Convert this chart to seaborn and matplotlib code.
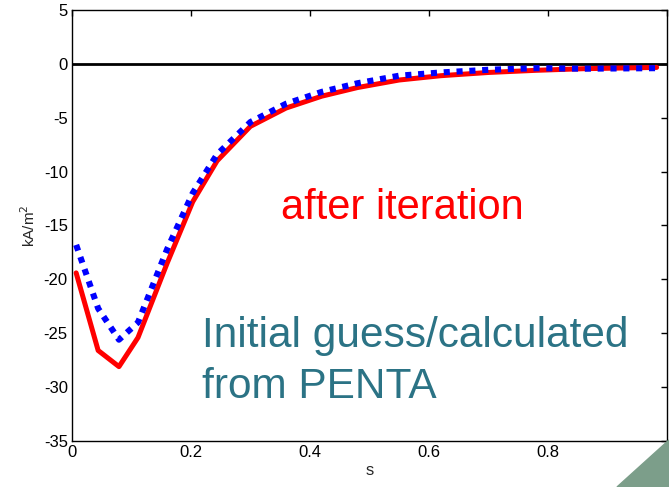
import numpy as np
import pandas as pd
import matplotlib
matplotlib.use("Agg")
import matplotlib.pyplot as plt
import seaborn as sns
from matplotlib.patches import Polygon

# radial coordinate s
s = [0.007, 0.044, 0.079, 0.111, 0.16, 0.203, 0.244, 0.30, 0.36, 0.42,
     0.48, 0.55, 0.62, 0.70, 0.78, 0.86, 0.93, 0.983]
# current density after iteration (kA/m^2)
after_iter = [-19.4, -26.6, -28.1, -25.4, -18.5, -12.8, -9.0, -5.8, -4.1, -3.0,
              -2.2, -1.5, -1.1, -0.8, -0.6, -0.45, -0.38, -0.33]
# initial guess from PENTA (kA/m^2)
initial = [-16.8, -22.7, -25.6, -24.0, -17.2, -12.0, -8.4, -5.4, -3.7, -2.6,
           -1.8, -1.1, -0.8, -0.55, -0.4, -0.45, -0.42, -0.4]

xticks = [0, 0.2, 0.4, 0.6, 0.8, 1]
yticks = [-35, -30, -25, -20, -15, -10, -5, 0, 5]

sns.set_style("white")
plt.rcParams['font.family'] = ['Liberation Sans', 'DejaVu Sans']
plt.rcParams['axes.unicode_minus'] = False

fig = plt.figure(figsize=(6.69, 4.87), dpi=100)
ax = fig.add_axes([0.1076, 0.0945, 0.889, 0.885])

ax.axhline(0, color='black', lw=2, zorder=1)
sns.lineplot(x=s, y=after_iter, color='#ff0000', lw=3.6, ax=ax, zorder=2,
             sort=False)
sns.lineplot(x=s, y=initial, color='#0000ff', lw=4.4, ax=ax, zorder=3,
             sort=False, linestyle=(0, (1, 1.1)))

ax.set_xlim(0, 1)
ax.set_ylim(-35, 5)
ax.set_xticks(xticks)
ax.set_xticklabels(['0', '0.2', '0.4', '0.6', '0.8', '1'])
ax.set_yticks(yticks)
ax.tick_params(direction='in', length=4, width=1, top=True, right=True,
               labelsize=12, colors='black', pad=3)
for sp in ax.spines.values():
    sp.set_color('black')
    sp.set_linewidth(1.0)

ax.set_xlabel('s', fontsize=12, labelpad=2)
ax.set_ylabel('kA/m$^2$', fontsize=11, labelpad=4)

ax.text(0.351, -14.4, 'after iteration', color='#ff0000', fontsize=30,
        va='baseline', ha='left')
ax.text(0.218, -26.3, 'Initial guess/calculated', color='#2b7385', fontsize=30.5,
        va='baseline', ha='left')
ax.text(0.218, -31.0, 'from PENTA', color='#2b7385', fontsize=30.5,
        va='baseline', ha='left')

# slide corner decoration
W, H = 669, 487
tri = Polygon([(617 / W, 0), (1, 47 / H), (1, 0)], closed=True,
              transform=fig.transFigure, color='#7c9e8a', zorder=10)
fig.patches.append(tri)

fig.savefig('out.png', dpi=100)
